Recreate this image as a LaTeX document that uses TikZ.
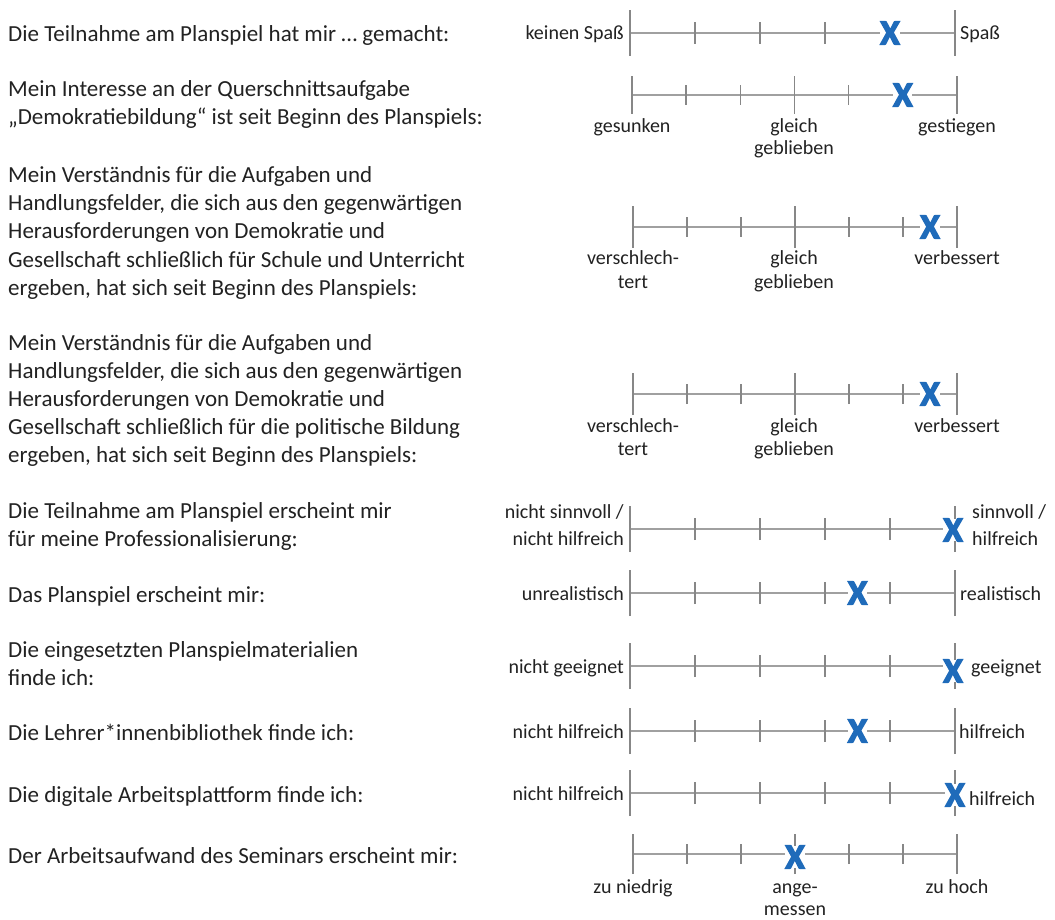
\documentclass[tikz,border=0pt]{standalone}
\usepackage{fontspec}
\setmainfont{Carlito}
\newfontfamily\crossfont{Carlito}[BoldFeatures={FakeBold=4}]
\usetikzlibrary{calc}

\definecolor{txtgray}{RGB}{34,34,34}
\definecolor{bargray}{RGB}{135,135,135}
\definecolor{axisgray}{RGB}{160,160,160}
\definecolor{crossblue}{RGB}{31,107,186}

\tikzset{
  qtext/.style={anchor=base west, inner sep=0pt, text=txtgray,
    font=\fontsize{23}{28}\selectfont},
  scalelabel/.style={inner sep=0pt, text=txtgray, font=\fontsize{20}{23}\selectfont},
  lableft/.style={scalelabel, anchor=base east},
  labright/.style={scalelabel, anchor=base west},
  labbelow/.style={scalelabel, anchor=base},
  axisline/.style={draw=axisgray, line width=2pt},
  scalebar/.style={draw=bargray, line width=1.6pt},
  xmark/.style={inner sep=0pt, fill=white, text=crossblue,
    font=\crossfont\bfseries\fontsize{35}{35}\selectfont},
}

% #1 name, #2 left x, #3 right x, #4 y, #5 intervals,
% #6 half height of the end bars, #7 half height of the inner ticks
\newcommand\ratingscale[7]{%
  \coordinate (#1l) at (#2,#4);
  \coordinate (#1r) at (#3,#4);
  \draw[axisline] (#1l) -- (#1r);
  \draw[scalebar] ($(#1l)+(0,#6)$) -- ($(#1l)+(0,-#6)$);
  \draw[scalebar] ($(#1r)+(0,#6)$) -- ($(#1r)+(0,-#6)$);
  \pgfmathtruncatemacro\lasttick{#5-1}%
  \foreach \k in {1,...,\lasttick}{%
    \draw[scalebar] ($(#1l)!\k/#5!(#1r)+(0,#7)$) -- ($(#1l)!\k/#5!(#1r)+(0,-#7)$);
  }%
}
% long middle tick of a six-step scale
\newcommand\midtick[2]{%
  \draw[scalebar] ($(#1l)!0.5!(#1r)+(0,#2)$) -- ($(#1l)!0.5!(#1r)+(0,-#2)$);
}

\begin{document}
\begin{tikzpicture}[x=1pt,y=-1pt]
\fill[white] (0,0) rectangle (1055,920);
\useasboundingbox (0,0) rectangle (1055,920);

% ---------- questions ----------
\node[qtext] (q1) at (8,42) {Die Teilnahme am Planspiel hat mir … gemacht:};

\node[qtext] (q2a) at (8,97)  {Mein Interesse an der Querschnittsaufgabe};
\node[qtext] (q2b) at (8,125) {„Demokratiebildung“ ist seit Beginn des Planspiels:};

\node[qtext] (q3a) at (8,183) {Mein Verständnis für die Aufgaben und};
\node[qtext] (q3b) at (8,211) {Handlungsfelder, die sich aus den gegenwärtigen};
\node[qtext] (q3c) at (8,239) {Herausforderungen von Demokratie und};
\node[qtext] (q3d) at (8,267) {Gesellschaft schließlich für Schule und Unterricht};
\node[qtext] (q3e) at (8,295) {ergeben, hat sich seit Beginn des Planspiels:};

\node[qtext] (q4a) at (8,350) {Mein Verständnis für die Aufgaben und};
\node[qtext] (q4b) at (8,378) {Handlungsfelder, die sich aus den gegenwärtigen};
\node[qtext] (q4c) at (8,406) {Herausforderungen von Demokratie und};
\node[qtext] (q4d) at (8,434) {Gesellschaft schließlich für die politische Bildung};
\node[qtext] (q4e) at (8,462) {ergeben, hat sich seit Beginn des Planspiels:};

\node[qtext] (q5a) at (8,518) {Die Teilnahme am Planspiel erscheint mir};
\node[qtext] (q5b) at (8,546) {für meine Professionalisierung:};

\node[qtext] (q6) at (8,602) {Das Planspiel erscheint mir:};

\node[qtext] (q7a) at (8,657) {Die eingesetzten Planspielmaterialien};
\node[qtext] (q7b) at (8,685) {finde ich:};

\node[qtext] (q8) at (8,740) {Die Lehrer*innenbibliothek finde ich:};
\node[qtext] (q9) at (8,802) {Die digitale Arbeitsplattform finde ich:};
\node[qtext] (q10) at (8,863) {Der Arbeitsaufwand des Seminars erscheint mir:};

% ---------- scales ----------
\ratingscale{s1}{630}{955}{33}{5}{23}{11}
\ratingscale{s2}{632}{957}{95}{6}{19}{10}   \midtick{s2}{19}
\ratingscale{s3}{633}{957}{227}{6}{21}{10}  \midtick{s3}{21}
\ratingscale{s4}{633}{957}{394}{6}{21}{10}  \midtick{s4}{21}
\ratingscale{s5}{630}{955}{529}{5}{23}{11}
\ratingscale{s6}{630}{955}{593}{5}{23}{11}
\ratingscale{s7}{630}{955}{666}{5}{23}{11}
\ratingscale{s8}{630}{955}{731}{5}{23}{11}
\ratingscale{s9}{630}{955}{793}{5}{23}{11}
\ratingscale{s10}{633}{957}{854}{6}{20}{10} \midtick{s10}{20}

% ---------- scale labels ----------
\node[lableft]  (l1a) at (624,40) {keinen Spaß};
\node[labright] (l1b) at (960,40) {Spaß};

\node[labbelow] (l2a) at (632,133) {gesunken};
\node[labbelow] (l2b) at (794,133) {gleich};
\node[labbelow] (l2c) at (794,155) {geblieben};
\node[labbelow] (l2d) at (957,133) {gestiegen};

\node[labbelow] (l3a) at (633,265) {verschlech-};
\node[labbelow] (l3b) at (633,288) {tert};
\node[labbelow] (l3c) at (794,265) {gleich};
\node[labbelow] (l3d) at (794,288) {geblieben};
\node[labbelow] (l3e) at (957,265) {verbessert};

\node[labbelow] (l4a) at (633,432) {verschlech-};
\node[labbelow] (l4b) at (633,455) {tert};
\node[labbelow] (l4c) at (794,432) {gleich};
\node[labbelow] (l4d) at (794,455) {geblieben};
\node[labbelow] (l4e) at (957,432) {verbessert};

\node[lableft]  (l5a) at (624,518) {nicht sinnvoll /};
\node[lableft]  (l5b) at (624,545) {nicht hilfreich};
\node[labright] (l5c) at (972,518) {sinnvoll /};
\node[labright] (l5d) at (972,545) {hilfreich};

\node[lableft]  (l6a) at (624,600) {unrealistisch};
\node[labright] (l6b) at (960,600) {realistisch};

\node[lableft]  (l7a) at (624,673) {nicht geeignet};
\node[labright] (l7b) at (971,673) {geeignet};

\node[lableft]  (l8a) at (624,738) {nicht hilfreich};
\node[labright] (l8b) at (959,738) {hilfreich};

\node[lableft]  (l9a) at (624,800) {nicht hilfreich};
\node[labright] (l9b) at (969,805) {hilfreich};

\node[labbelow] (l10a) at (633,893) {zu niedrig};
\node[labbelow] (l10b) at (795,893) {ange-};
\node[labbelow] (l10c) at (795,915) {messen};
\node[labbelow] (l10d) at (957,893) {zu hoch};

% ---------- answers ----------
\node[xmark] (m1)  at ($(s1l)!0.8!(s1r)$) {X};
\node[xmark] (m2)  at ($(s2l)!5/6!(s2r)$) {X};
\node[xmark] (m3)  at ($(s3l)!11/12!(s3r)$) {X};
\node[xmark] (m4)  at ($(s4l)!11/12!(s4r)$) {X};
\node[xmark] (m5)  at ($(s5r)+(-2,1)$) {X};
\node[xmark] (m6)  at ($(s6l)!0.7!(s6r)$) {X};
\node[xmark] (m7)  at ($(s7r)+(-2,5)$) {X};
\node[xmark] (m8)  at ($(s8l)!0.7!(s8r)$) {X};
\node[xmark] (m9)  at ($(s9r)+(0,2)$) {X};
\node[xmark] (m10) at ($(s10l)!0.5!(s10r)+(0,3)$) {X};
\end{tikzpicture}
\end{document}
